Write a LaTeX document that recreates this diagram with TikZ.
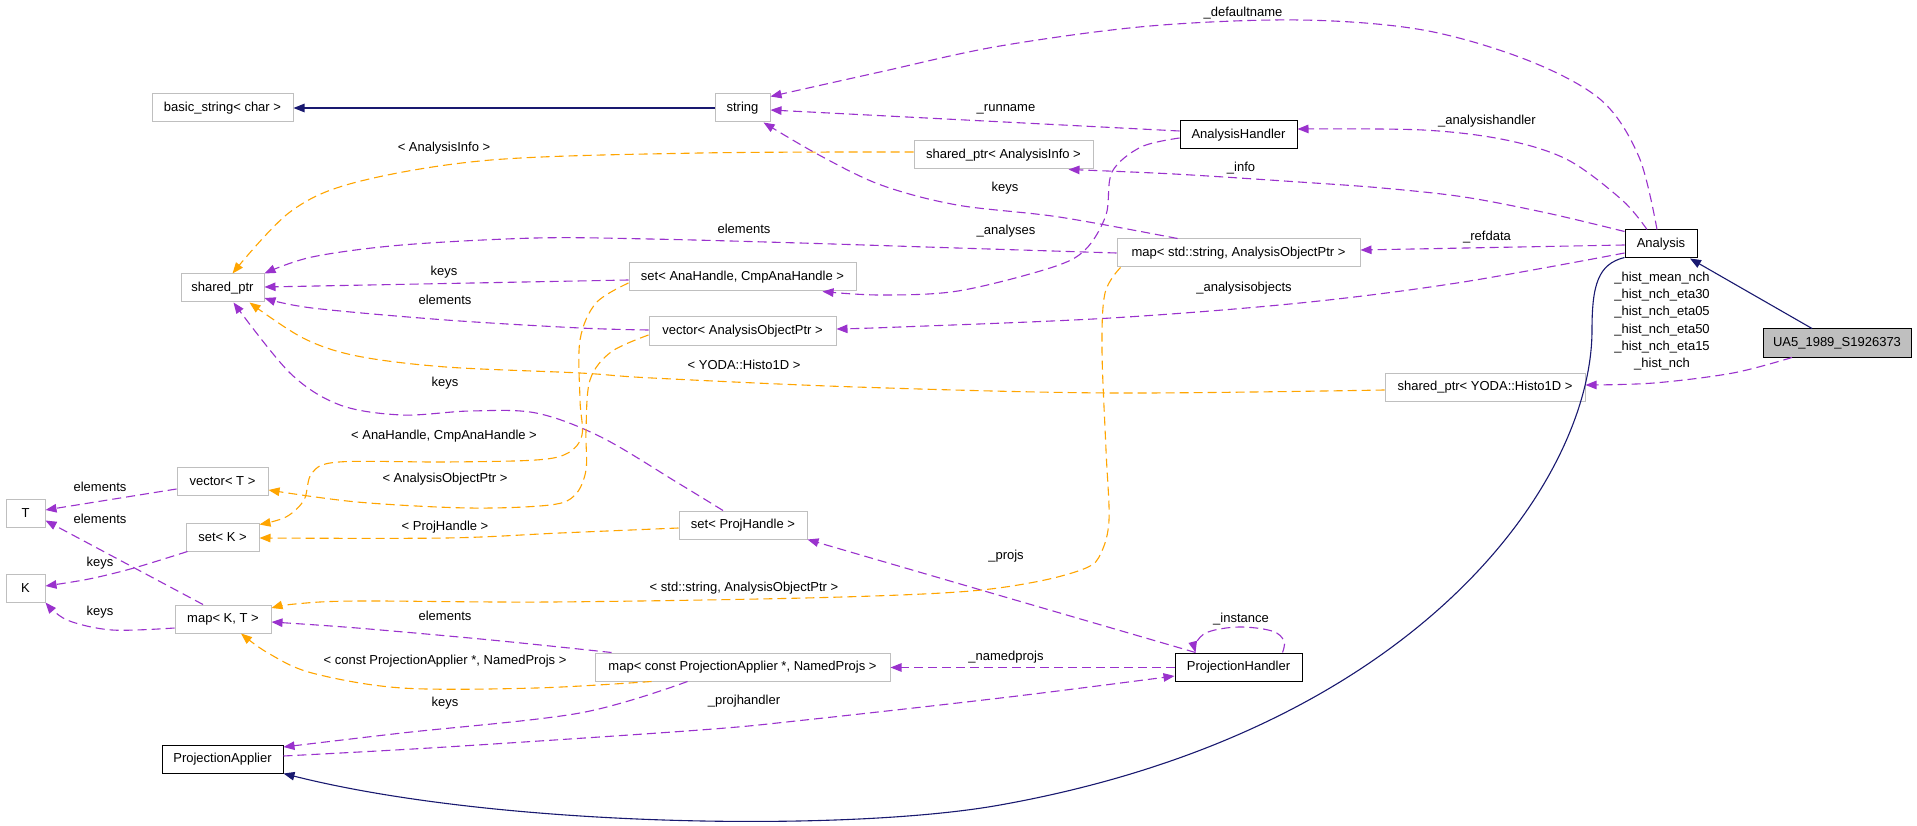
\documentclass[tikz,border=0pt]{standalone}
\usepackage{fontspec}
\setmainfont{Liberation Sans}
\usetikzlibrary{arrows.meta}
\definecolor{purp}{HTML}{9A32CD}
\definecolor{orng}{HTML}{FFA500}
\definecolor{mblue}{HTML}{191970}
\definecolor{gbord}{HTML}{BFBFBF}
\begin{document}
\begin{tikzpicture}[x=1pt,y=-1pt,
  every node/.style={font=\fontsize{13}{15}\selectfont, inner sep=0pt},
  gbox/.style={draw=gbord, line width=1pt, minimum height=28pt},
  bbox/.style={draw=black, line width=1pt, minimum height=28pt},
  cbox/.style={draw=black, fill=gbord, line width=1pt, minimum height=28pt},
  lbl/.style={fill=none},
  agg/.style={draw=purp, dash pattern=on 9pt off 5pt, line width=1.1pt, -{Triangle[length=11pt,width=8.5pt]}},
  tmpl/.style={draw=orng, dash pattern=on 9pt off 5pt, line width=1.1pt, -{Triangle[length=11pt,width=8.5pt]}},
  inh/.style={draw=mblue, line width=1.1pt, -{Triangle[length=11pt,width=8.5pt]}}
]
\useasboundingbox[fill=white] (0,0) rectangle (1917,826);

% nodes
\node[gbox, minimum width=141pt] (bs) at (222.5,108) {basic\_string< char >};
\node[gbox, minimum width=55pt] (str) at (742.5,108) {string};
\node[bbox, minimum width=117pt] (ah) at (1238.5,135) {AnalysisHandler};
\node[gbox, minimum width=179pt] (spai) at (1003.5,155) {shared\_ptr< AnalysisInfo >};
\node[gbox, minimum width=243pt] (mapsa) at (1238.5,253) {map< std::string, AnalysisObjectPtr >};
\node[gbox, minimum width=227pt] (setah) at (742.5,277) {set< AnaHandle, CmpAnaHandle >};
\node[gbox, minimum width=83pt] (sp) at (222.5,288) {shared\_ptr};
\node[gbox, minimum width=187pt] (vecaop) at (742.5,331) {vector< AnalysisObjectPtr >};
\node[gbox, minimum width=128pt] (setph) at (743,525) {set< ProjHandle >};
\node[bbox, minimum width=72pt] (ana) at (1661,244) {Analysis};
\node[cbox, minimum width=148pt] (ua5) at (1837,343) {UA5\_1989\_S1926373};
\node[gbox, minimum width=200pt] (sph) at (1485,387) {shared\_ptr< YODA::Histo1D >};
\node[gbox, minimum width=91pt] (vect) at (222.5,481) {vector< T >};
\node[gbox, minimum width=39pt] (T) at (25.5,513) {T};
\node[gbox, minimum width=73pt] (setk) at (222.5,537) {set< K >};
\node[gbox, minimum width=39pt] (K) at (25.5,588) {K};
\node[gbox, minimum width=96pt] (mapkt) at (223,619) {map< K, T >};
\node[bbox, minimum width=121pt] (pa) at (222.5,759) {ProjectionApplier};
\node[gbox, minimum width=295pt] (mapcp) at (742.5,667) {map< const ProjectionApplier *, NamedProjs >};
\node[bbox, minimum width=127pt] (ph) at (1238.5,667) {ProjectionHandler};

% inheritance
\draw[inh] (str.west) -- (bs.east);
\draw[inh] ([xshift=-25pt]ua5.north) -- ([xshift=29pt]ana.south);
\draw[inh] ([yshift=1pt]ana.south west) .. controls (1598,264) and (1592,285) .. (1592,330)
  .. controls (1592,480) and (1420,730) .. (1000,805)
  .. controls (850,832) and (500,828) .. (pa.south east);

% string members
\draw[agg] plot[smooth, tension=0.55] coordinates {([xshift=-4pt]ana.north) (1639,157) (1601,100) (1527,60) (1423,30) (1300,20) (1150,26) (1000,46) (880,72) ([yshift=-3pt]str.north east)};
\node[lbl] (l1) at (1243,13) {\_defaultname};
\draw[agg] ([yshift=4pt]ah.west) -- ([yshift=-2pt]str.east);
\node[lbl] (l2) at (1006,109) {\_runname};
\draw[agg] plot[smooth, tension=0.55] coordinates {([xshift=-61pt]mapsa.north) (1059,217) (957,205) (881,185) (819,155) ([xshift=-7pt]str.south east)};
\node[lbl] (l3) at (1005,188) {keys};

% Analysis members
\draw[agg] plot[smooth, tension=0.55] coordinates {([xshift=-14pt]ana.north) (1622,200) (1568,160) (1506,140) (1423,130) ([yshift=6pt]ah.east)};
\node[lbl] (l4) at (1487,121) {\_analysishandler};
\draw[agg] plot[smooth, tension=0.55] coordinates {([yshift=-2pt]ana.north west) (1547,213) (1464,197) (1382,188) (1299,182) (1174,174) ([xshift=-25pt]spai.south east)};
\node[lbl] (l5) at (1241,168) {\_info};
\draw[agg] ([yshift=-1pt]ana.west) -- ([yshift=3pt]mapsa.east);
\node[lbl] (l6) at (1487,237) {\_refdata};
\draw[agg] plot[smooth, tension=0.55] coordinates {([yshift=-9pt]ana.west) (1457,283) (1300,303) (1111,318) (900,327) ([yshift=2pt]vecaop.east)};
\node[lbl] (l7) at (1244,288) {\_analysisobjects};

% shared_ptr
\draw[tmpl] plot[smooth, tension=0.55] coordinates {([yshift=3pt]spai.west) (700,153) (491,160) (357,182) (290,212) ([xshift=10pt]sp.north)};
\node[lbl] (l8) at (444,148) {< AnalysisInfo >};
\draw[agg] plot[smooth, tension=0.55] coordinates {(mapsa.west) (957,248) (800,243) (650,239) (536,238) (402,245) (312,257) (sp.north east)};
\node[lbl] (l9) at (744,229) {elements};
\draw[agg] ([yshift=-3pt]setah.west) -- ([yshift=1pt]sp.east);
\node[lbl] (l10) at (444,272) {keys};
\draw[agg] plot[smooth, tension=0.55] coordinates {([yshift=1pt]vecaop.west) (580,328) (446,320) (312,308) ([yshift=-10pt]sp.east)};
\node[lbl] (l11) at (445,300) {elements};
\draw[tmpl] plot[smooth, tension=0.55] coordinates {([yshift=-3pt]sph.west) (1111,393) (856,387) (652,378) (580,373) (446,367) (357,356) (303,338) ([xshift=27pt]sp.south)};
\node[lbl] (l12) at (744,365) {< YODA::Histo1D >};
\draw[agg] plot[smooth, tension=0.55] coordinates {([xshift=-20pt]setph.north) (678,483) (601,437) (536,413) (470,411) (402,415) (340,405) (290,373) ([xshift=11pt]sp.south)};
\node[lbl] (l13) at (445,383) {keys};

% AnalysisHandler -> set
\draw[agg] plot[smooth, tension=0.55] coordinates {([yshift=-3pt]ah.west) (1141,147) (1112,172) (1106,215) (1085,250) (1050,268) (958,291) (880,295) ([xshift=80pt]setah.south)};
\node[lbl] (l14) at (1006,231) {\_analyses};

% template instances
\draw[tmpl] plot[smooth, tension=0.55] coordinates {([yshift=-6pt]setah.west) (596,303) (580,340) (580,400) (582,435) (568,453) (536,460) (446,462) (339,462) (312,473) (304,500) (286,517) ([yshift=-2pt]setk.north east)};
\node[lbl] (l15) at (444,436) {< AnaHandle, CmpAnaHandle >};
\draw[tmpl] plot[smooth, tension=0.55] coordinates {([yshift=-4pt]vecaop.west) (611,352) (590,380) (586,430) (586,470) (575,495) (550,505) (469,508) (357,502) ([yshift=-9pt]vect.east)};
\node[lbl] (l16) at (445,479) {< AnalysisObjectPtr >};
\draw[tmpl] plot[smooth, tension=0.55] coordinates {([yshift=-3pt]setph.west) (560,533) (446,538) ([yshift=-1pt]setk.east)};
\node[lbl] (l17) at (445,527) {< ProjHandle >};
\draw[tmpl] plot[smooth, tension=0.55] coordinates {([xshift=-118pt]mapsa.south) (1105,293) (1102,350) (1106,450) (1109,520) (1101,553) (1086,568) (1035,582) (958,592) (805,598) (550,602) (357,601) (295,604) ([yshift=11pt]mapkt.east)};
\node[lbl] (l18) at (744,588) {< std::string, AnalysisObjectPtr >};
\draw[tmpl] plot[smooth, tension=0.55] coordinates {([xshift=-91pt]mapcp.south) (536,688) (402,688) (312,673) (268,653) ([xshift=18pt]mapkt.south)};
\node[lbl] (l19) at (445,661) {< const ProjectionApplier *, NamedProjs >};

% T and K
\draw[agg] ([yshift=-8pt]vect.west) -- ([yshift=3pt]T.east);
\node[lbl] (l20) at (100,487) {elements};
\draw[agg] ([xshift=-20pt]mapkt.north) -- ([yshift=7pt]T.south east);
\node[lbl] (l21) at (100,519) {elements};
\draw[agg] plot[smooth, tension=0.55] coordinates {([xshift=-35pt]setk.south) (134,568) (89,579) ([yshift=2pt]K.east)};
\node[lbl] (l22) at (100,563) {keys};
\draw[agg] plot[smooth, tension=0.55] coordinates {([yshift=-9pt]mapkt.west) (112,630) (67,620) (K.south east)};
\node[lbl] (l23) at (100,612) {keys};

% map<const ...>
\draw[agg] plot[smooth, tension=0.55] coordinates {([xshift=-131pt]mapcp.north) (491,640) (357,628) ([yshift=-3pt]mapkt.east)};
\node[lbl] (l24) at (445,616) {elements};
\draw[agg] plot[smooth, tension=0.55] coordinates {([xshift=-55pt]mapcp.south) (580,713) (402,733) ([yshift=12pt]pa.east)};
\node[lbl] (l25) at (445,703) {keys};

% ProjectionHandler
\draw[agg] plot[smooth, tension=0.55] coordinates {([yshift=3pt]pa.east) (446,747) (700,730) (805,720) (1009,697) ([yshift=-9pt]ph.west)};
\node[lbl] (l26) at (744,701) {\_projhandler};
\draw[agg] ([yshift=-0.5pt]ph.west) -- ([yshift=-0.5pt]mapcp.east);
\node[lbl] (l27) at (1006,657) {\_namedprojs};
\draw[agg] ([xshift=-43pt]ph.north) -- (setph.south east);
\node[lbl] (l28) at (1006,556) {\_projs};
\draw[agg] plot[smooth, tension=0.6] coordinates {([xshift=44pt]ph.north) (1284,641) (1272,631) (1239,627) (1208,632) (1196,643) ([xshift=-43pt]ph.north)};
\node[lbl] (l29) at (1241,619) {\_instance};

% UA5 members
\draw[agg] plot[smooth, tension=0.55] coordinates {([xshift=-45pt]ua5.south) (1733,373) (1654,383) ([yshift=2pt]sph.east)};
\node[lbl, align=center, font=\fontsize{13}{17.2}\selectfont] (l30) at (1662,321) {\_hist\_mean\_nch\\\_hist\_nch\_eta30\\\_hist\_nch\_eta05\\\_hist\_nch\_eta50\\\_hist\_nch\_eta15\\\_hist\_nch};
\end{tikzpicture}
\end{document}
